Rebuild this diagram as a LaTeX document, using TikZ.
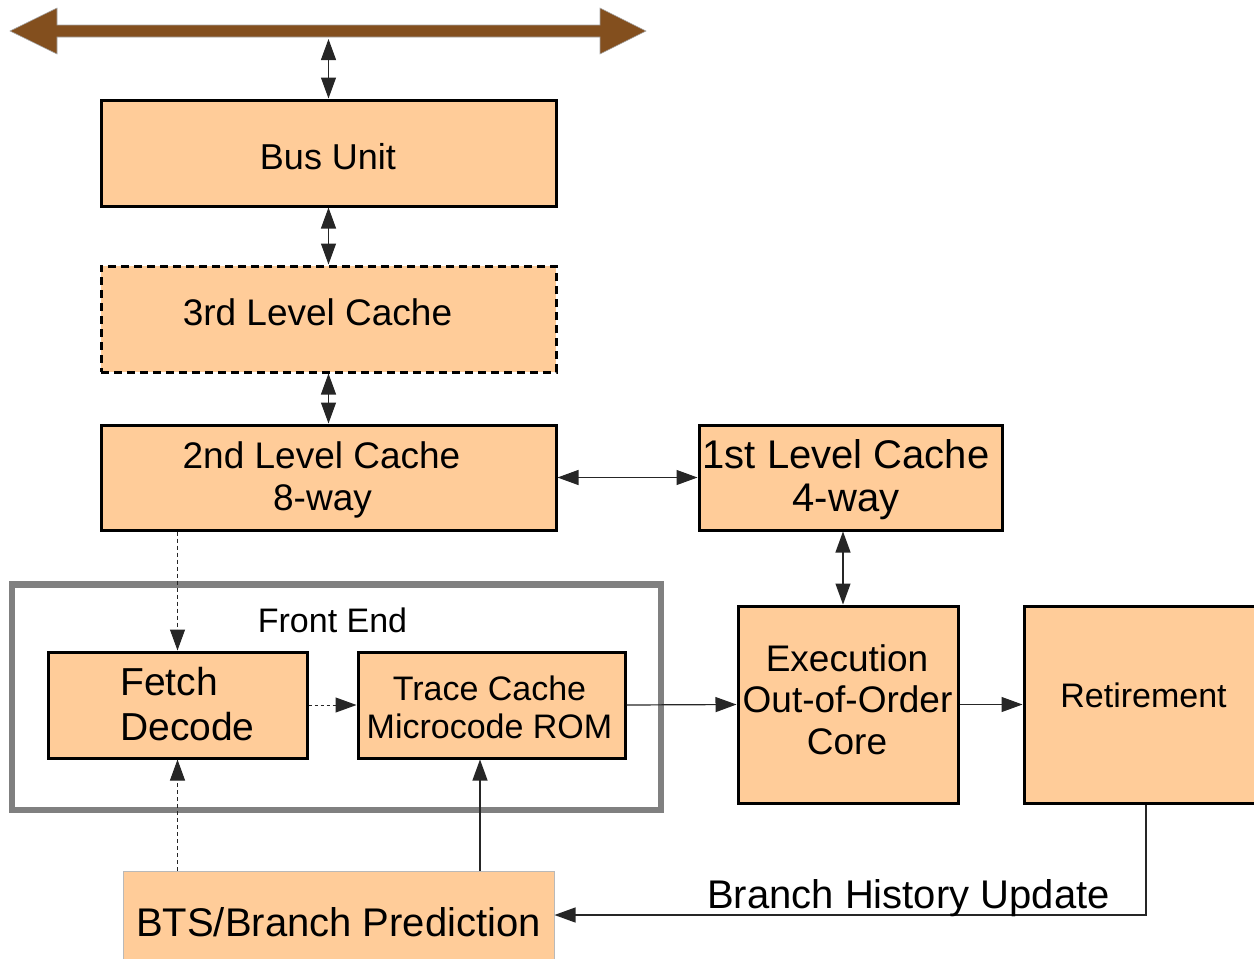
\documentclass[tikz,border=0pt]{standalone}
\usepackage{fontspec}
\setmainfont{Liberation Sans}
\usetikzlibrary{arrows.meta,calc}
\definecolor{boxfill}{RGB}{255,204,153}
\definecolor{busbrown}{RGB}{131,79,30}
\definecolor{framegray}{RGB}{128,128,128}

\begin{document}
\begin{tikzpicture}[x=1pt,y=-1pt,
  unit/.style={draw=black, line width=3pt, fill=boxfill, inner sep=0pt},
  l3box/.style={unit, dash pattern=on 8pt off 5pt},
  txt/.style={inner sep=0pt, anchor=base},
  ltxt/.style={inner sep=0pt, anchor=base west},
  link/.style={line width=1.2pt, draw=black!85, -{Triangle[length=21pt,width=15pt]}},
  dlink/.style={line width=1.2pt, draw=black!85, {Triangle[length=21pt,width=15pt]}-{Triangle[length=21pt,width=15pt]}},
  dashlink/.style={link, line width=1pt, dash pattern=on 4pt off 3pt},
  dotlink/.style={link, line width=1pt, dash pattern=on 3pt off 3pt},
  fs36/.style={font=\fontsize{36}{40}\selectfont},
  fs37/.style={font=\fontsize{37}{40}\selectfont},
  fs39/.style={font=\fontsize{39}{44}\selectfont},
  fs40/.style={font=\fontsize{40}{44}\selectfont},
  fs34/.style={font=\fontsize{34}{38}\selectfont}]

\useasboundingbox (0,0) rectangle (1254,959);

% system bus
\filldraw[fill=busbrown, draw=gray!70, line width=0.6pt]
  (10,31) -- (57,8) -- (57,25) -- (600,25) -- (600,8) -- (646,31)
  -- (600,54) -- (600,37) -- (57,37) -- (57,54) -- cycle;
\coordinate (busbar) at (328.5,39);

% front end frame
\node[draw=framegray, line width=6.5pt, minimum width=649pt, minimum height=225.5pt, inner sep=0pt]
  (frontend) at (336.5,697.25) {};
\node[txt, fs34] (frontendlbl) at (332.5,632) {Front End};

% boxes
\node[unit, minimum width=455pt, minimum height=106pt] (bus) at (328.5,153) {};
\node[l3box, minimum width=455pt, minimum height=106pt] (l3) at (328.5,319) {};
\node[unit, minimum width=455pt, minimum height=105pt] (l2) at (328.5,477.5) {};
\node[unit, minimum width=303pt, minimum height=105pt] (l1) at (850.5,477.5) {};
\node[unit, minimum width=259pt, minimum height=106pt] (fetch) at (177.5,705) {};
\node[unit, minimum width=267pt, minimum height=106pt] (trace) at (491.5,705) {};
\node[unit, minimum width=220pt, minimum height=197pt] (exec) at (848,704.5) {};
\node[unit, minimum width=244pt, minimum height=197pt] (ret) at (1146,704.5) {};
\node[draw=gray!55, line width=1pt, fill=boxfill, minimum width=431pt, minimum height=88pt, inner sep=0pt]
  (bts) at (338.5,915) {};

% box texts
\node[txt, fs36] (bustxt) at (328,169) {Bus Unit};
\node[txt, fs37] (l3txt) at (317.5,325) {3rd Level Cache};
\node[txt, fs37] (l2txta) at (321.5,468) {2nd Level Cache};
\node[txt, fs37] (l2txtb) at (322.5,510) {8-way};
\node[txt, fs40] (l1txta) at (846,468) {1st Level Cache};
\node[txt, fs40] (l1txtb) at (846,511) {4-way};
\node[ltxt, fs39] (fetchtxta) at (120,695) {Fetch};
\node[ltxt, fs39] (fetchtxtb) at (120,740) {Decode};
\node[txt, fs34] (tracetxta) at (489.5,700) {Trace Cache};
\node[txt, fs34] (tracetxtb) at (489.5,738) {Microcode ROM};
\node[txt, fs37] (exectxta) at (847,671) {Execution};
\node[txt, fs37] (exectxtb) at (847.5,712) {Out-of-Order};
\node[txt, fs37] (exectxtc) at (847,754) {Core};
\node[txt, fs34] (rettxt) at (1143.5,707) {Retirement};
\node[txt, fs40] (btstxt) at (338.5,936) {BTS/Branch Prediction};

% connectors
\draw[dlink] (bus.north) -- (busbar);
\draw[dlink] (bus.south) -- (l3.north);
\draw[dlink] (l3.south) -- (l2.north);
\draw[dlink] (l2.east) -- (l1.west);
\coordinate (l1port) at ($(l1.south)+(-7.5,0)$);
\draw[dlink] (l1port) -- (l1port |- exec.north);
\draw[dashlink] (l2.south -| fetch.north) -- (fetch.north);
\draw[dotlink] (fetch.east) -- (trace.west);
\draw[link] (trace.east) -- (exec.west);
\draw[link] (exec.east) -- (ret.west);
\draw[dashlink] (bts.north -| fetch.south) -- (fetch.south);
\coordinate (traceport) at ($(trace.south)+(-11.5,0)$);
\draw[link] (bts.north -| traceport) -- (traceport);
\draw[link] (ret.south) |- (bts.east);
\node[txt, fs40] (bhu) at (908.5,908) {Branch History Update};
\end{tikzpicture}
\end{document}
